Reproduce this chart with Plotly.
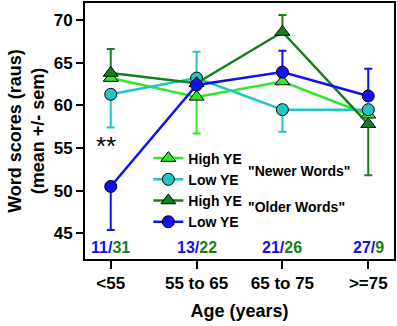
import plotly.graph_objects as go

age_groups = ["<55", "55 to 65", "65 to 75", ">=75"]
x_idx = [0, 1, 2, 3]

high_new = [63.2, 61.0, 62.8, 58.9]
high_new_up = [0, 0, 0, 0]
high_new_dn = [0, 4.3, 0, 0]
low_new = [61.3, 63.2, 59.5, 59.5]
low_new_up = [0, 3.1, 0, 0]
low_new_dn = [3.9, 0, 2.6, 0]
high_old = [63.8, 62.6, 68.6, 57.8]
high_old_up = [2.8, 0, 2.0, 0]
high_old_dn = [0, 0, 0, 6.0]
low_old = [50.5, 62.4, 63.9, 61.1]
low_old_up = [0, 0, 2.5, 3.2]
low_old_dn = [5.1, 0, 0, 0]

n_low = ["11", "13", "21", "27"]
n_high = ["31", "22", "26", "9"]

C_LG = "#2ee82e"
C_CY = "#22c4c4"
C_DG = "#15801a"
C_BL = "#1010f0"

fig = go.Figure()

def add(name, y, up, dn, color, symbol):
    fig.add_trace(go.Scatter(
        x=x_idx, y=y, name=name, mode="lines+markers",
        line=dict(color=color, width=2.5),
        marker=dict(symbol=symbol, size=13 if symbol == "triangle-up" else 12,
                    color=color, line=dict(color="black", width=1)),
        error_y=dict(type="data", symmetric=False, array=up, arrayminus=dn,
                     visible=True, color=color, thickness=2, width=4),
    ))

add("High YE", high_new, high_new_up, high_new_dn, C_LG, "triangle-up")
add("Low YE", low_new, low_new_up, low_new_dn, C_CY, "circle")
add("High YE", high_old, high_old_up, high_old_dn, C_DG, "triangle-up")
add("Low YE", low_old, low_old_up, low_old_dn, C_BL, "circle")

for i in range(len(age_groups)):
    fig.add_annotation(
        x=x_idx[i], y=43.3, xref="x", yref="y", showarrow=False,
        text=f"<span style='color:{C_BL}'>{n_low[i]}</span>/<span style='color:{C_DG}'>{n_high[i]}</span>",
        font=dict(size=16, color=C_BL, family="Liberation Sans", weight="bold"),
    )

fig.add_annotation(x=0, y=55.2, xref="x", yref="y", showarrow=False, text="**",
                   xshift=-5, font=dict(size=26, color="black", family="Liberation Sans"))
fig.add_annotation(x=1.58, y=52.3, xref="x", yref="y", showarrow=False, xanchor="left",
                   text='"Newer Words"',
                   font=dict(size=14, color="black", family="Liberation Sans", weight="bold"))
fig.add_annotation(x=1.58, y=48.1, xref="x", yref="y", showarrow=False, xanchor="left",
                   text='"Older Words"',
                   font=dict(size=14, color="black", family="Liberation Sans", weight="bold"))

fig.update_layout(
    width=397, height=326,
    margin=dict(l=85, r=3, t=3, b=67, autoexpand=False),
    paper_bgcolor="white", plot_bgcolor="white",
    font=dict(family="Liberation Sans", color="black"),
    showlegend=True,
    legend=dict(x=0.205, y=0.455, xanchor="left", yanchor="top",
                bgcolor="rgba(0,0,0,0)", tracegroupgap=0,
                font=dict(size=14, family="Liberation Sans", weight="bold"),
                itemwidth=30),
    xaxis=dict(range=[-0.3, 3.3], tickvals=x_idx, ticktext=age_groups,
               automargin=False,
               showline=True, linecolor="black", linewidth=2, mirror=True,
               ticks="outside", ticklen=8, tickwidth=2, tickcolor="black",
               showgrid=False, zeroline=False,
               tickfont=dict(size=17, weight="bold"),
               title=dict(text="Age (years)", font=dict(size=18, weight="bold"), standoff=12)),
    yaxis=dict(range=[42, 72], tickvals=[45, 50, 55, 60, 65, 70],
               automargin=False,
               showline=True, linecolor="black", linewidth=2, mirror=True,
               ticks="outside", ticklen=7, tickwidth=2, tickcolor="black",
               showgrid=False, zeroline=False,
               tickfont=dict(size=17, weight="bold"),
               title=dict(text="Word scores (raus)<br>(mean +/- sem)",
                          font=dict(size=18, weight="bold"), standoff=4)),
)

fig.write_html("out.html", config={"displayModeBar": False},
               post_script="document.body.style.margin='0';")
